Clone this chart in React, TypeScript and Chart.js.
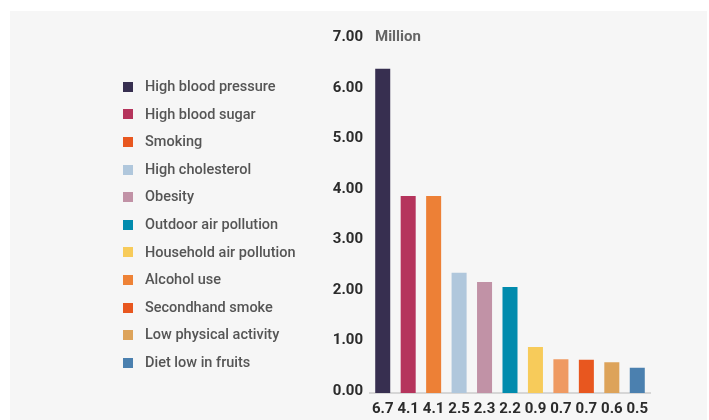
import React, { useEffect, useRef } from "react";
import { Chart, registerables } from "chart.js";

Chart.register(...registerables);

const categories = ["6.7", "4.1", "4.1", "2.5", "2.3", "2.2", "0.9", "0.7", "0.7", "0.6", "0.5"];
const values = [6.42, 3.9, 3.9, 2.38, 2.2, 2.1, 0.91, 0.67, 0.66, 0.61, 0.5];
const barColors = ["#372f50", "#b5345c", "#ed8036", "#b0c7dc", "#c192a6", "#018bad", "#f7cb5a", "#ef9a62", "#e8571f", "#dda35a", "#4b80af"];
const legendNames = [
  "High blood pressure",
  "High blood sugar",
  "Smoking",
  "High cholesterol",
  "Obesity",
  "Outdoor air pollution",
  "Household air pollution",
  "Alcohol use",
  "Secondhand smoke",
  "Low physical activity",
  "Diet low in fruits",
];
const legendColors = ["#372f50", "#b5345c", "#e8571f", "#b0c7dc", "#c192a6", "#018bad", "#f7cb5a", "#ee8236", "#e8571f", "#dda35a", "#4b80af"];
const yTicks = [0, 1, 2, 3, 4, 5, 6, 7];
const unitLabel = "Million";

const sideLegend = {
  id: "sideLegend",
  afterDraw(chart: any) {
    const ctx = chart.ctx;
    ctx.save();
    ctx.textBaseline = "middle";
    ctx.textAlign = "left";
    ctx.font = "500 14.5px Roboto";
    legendNames.forEach((name, i) => {
      const y = 86.8 + i * 27.6;
      ctx.fillStyle = legendColors[i];
      ctx.fillRect(123, Math.round(y - 5), 10, 10);
      ctx.fillStyle = "#555555";
      ctx.fillText(name, 145, y + 0.5);
    });
    const yTop = chart.scales.y.getPixelForValue(yTicks[yTicks.length - 1]) - 2;
    ctx.font = "bold 15px Roboto";
    ctx.fillStyle = "#666666";
    ctx.fillText(unitLabel, chart.chartArea.left + 5, yTop);
    ctx.restore();
  },
};

export default function App() {
  const ref = useRef<HTMLCanvasElement>(null);
  useEffect(() => {
    if (!ref.current) return;
    const chart = new Chart(ref.current, {
      type: "bar",
      data: {
        labels: categories,
        datasets: [
          {
            data: values,
            backgroundColor: barColors,
            borderWidth: 0,
            categoryPercentage: 1,
            barPercentage: 0.59,
          },
        ],
      },
      options: {
        animation: false,
        responsive: false,
        devicePixelRatio: 1,
        layout: { padding: { left: 320, right: 59, top: 39.5, bottom: 0 } },
        plugins: { legend: { display: false }, tooltip: { enabled: false } },
        scales: {
          x: {
            grid: { display: false, drawTicks: false },
            border: { display: true, color: "#d6d6d6", width: 2 },
            ticks: {
              color: "#2b2b2b",
              font: { family: "Roboto", size: 15, weight: "bold" },
              padding: 7,
              maxRotation: 0,
              autoSkip: false,
            },
            afterFit: (s: any) => {
              s.height = 27;
            },
          },
          y: {
            min: 0,
            max: 7,
            grid: { display: false, drawTicks: false },
            border: { display: false },
            ticks: {
              stepSize: 1,
              color: "#2b2b2b",
              font: { family: "Roboto", size: 15, weight: "bold" },
              padding: 7,
              labelOffset: -2,
              callback: (v: any) => Number(v).toFixed(2),
            },
            afterFit: (s: any) => {
              s.width = 50;
            },
          },
        },
      },
      plugins: [sideLegend],
    });
    return () => chart.destroy();
  }, []);
  return (
    <div style={{ position: "fixed", left: 0, top: 0, width: 709, height: 420, background: "#ffffff", overflow: "hidden" }}>
      <div style={{ position: "absolute", left: 10, top: 11, width: 697, height: 420, background: "#f6f6f6" }} />
      <canvas ref={ref} width={709} height={420} style={{ position: "absolute", left: 0, top: 0, width: 709, height: 420 }} />
    </div>
  );
}
